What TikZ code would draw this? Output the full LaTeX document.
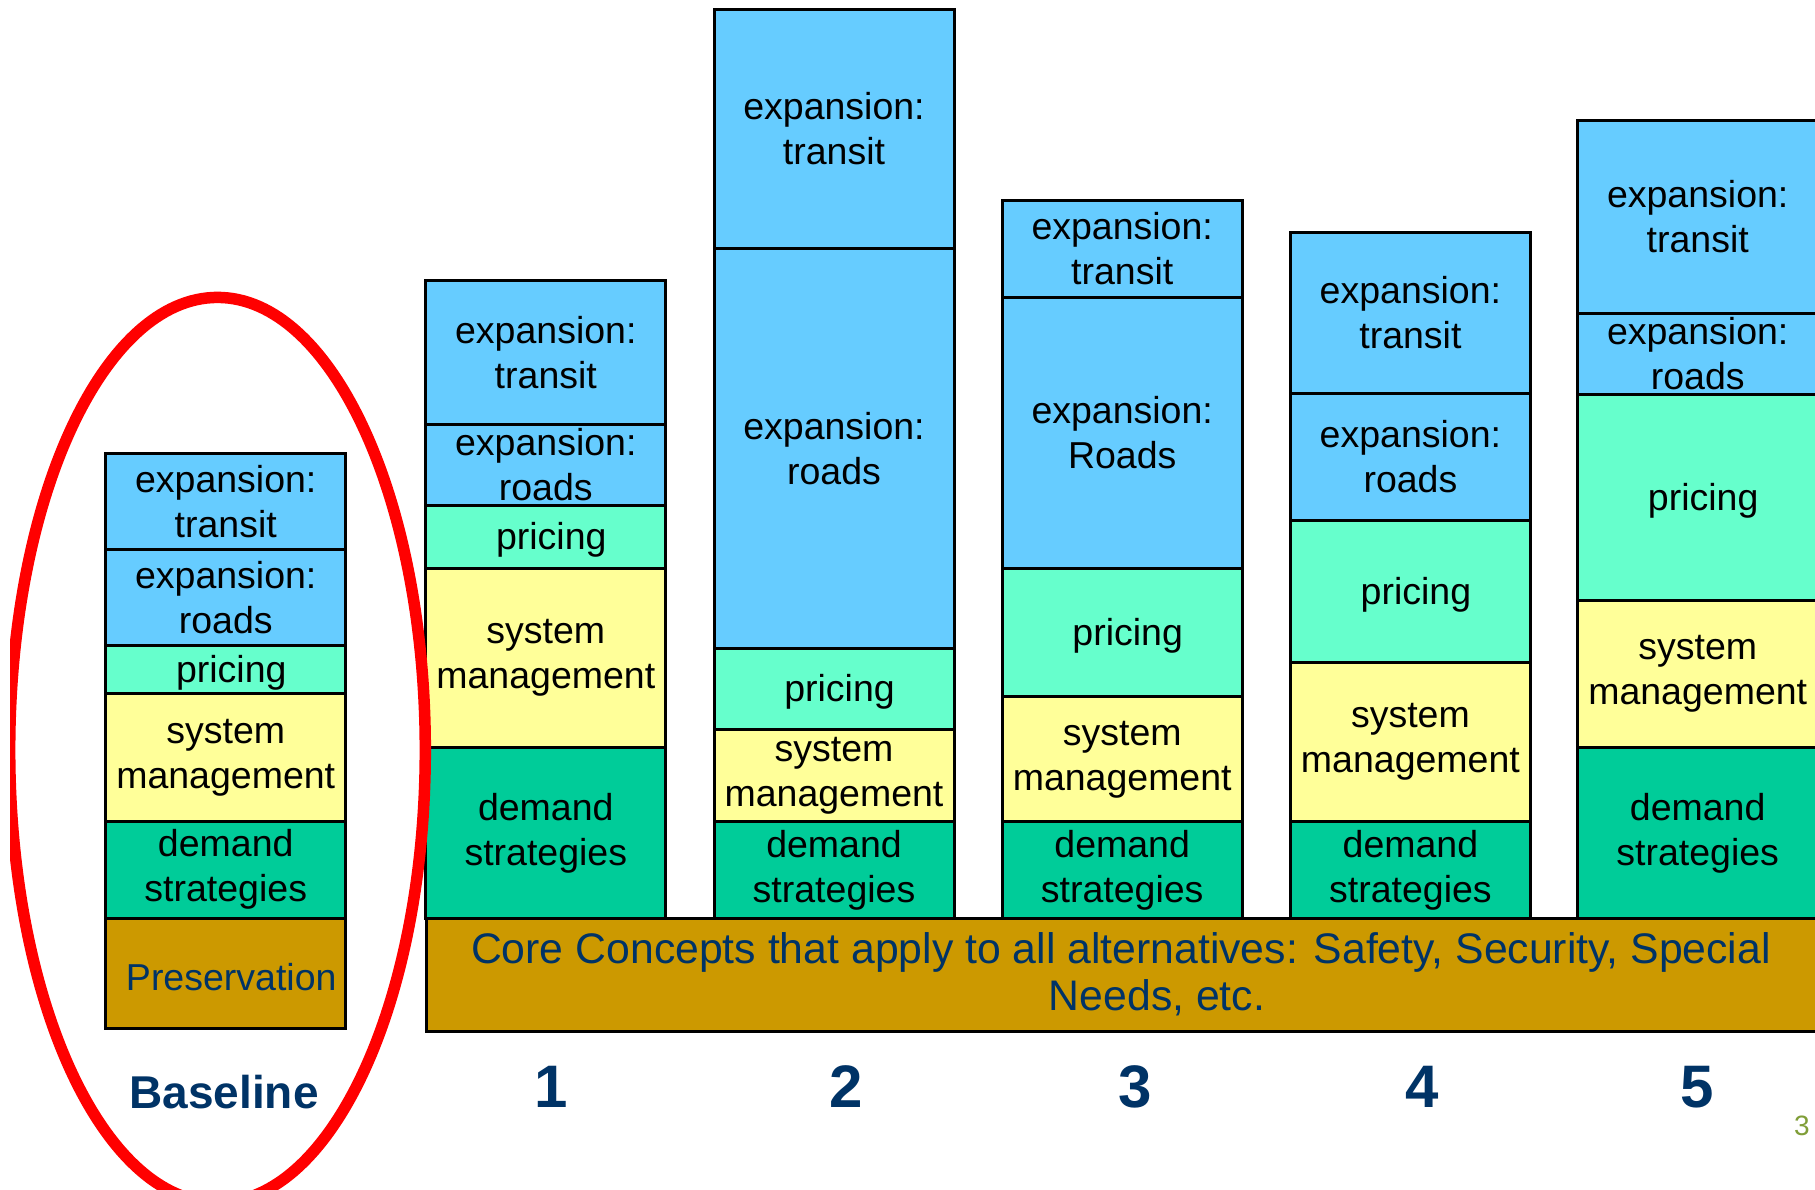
\documentclass[tikz,border=0pt]{standalone}
\usepackage{fontspec}
\setmainfont{Liberation Sans}
\definecolor{azul}{HTML}{66CCFF}
\definecolor{aguamarina}{HTML}{66FFCC}
\definecolor{amarillo}{HTML}{FFFF99}
\definecolor{verde}{HTML}{00CC99}
\definecolor{ocre}{HTML}{CC9900}
\definecolor{marino}{HTML}{003366}
\definecolor{oliva}{RGB}{128,158,56}
\newcommand{\puntal}{\rule{0pt}{0.905em}}
\newcommand{\sangria}{\hspace*{11pt}}
\tikzset{
    capa/.style={
        draw=black,
        line width=3pt,
        minimum width=240pt,
        inner sep=0pt,
        align=center,
        execute at begin node=\puntal,
        font=\fontsize{37.5}{45}\selectfont
    },
    numero/.style={
        anchor=base,
        text=marino,
        font=\fontsize{60}{72}\selectfont\bfseries
    }
}

\begin{document}
\begin{tikzpicture}[
    x=1pt,
    y=-1pt
]

    \path[use as bounding box, fill=white] (0,0) rectangle (1815,1189);
    \clip (0,0) rectangle (1815,1189);

    % Baseline
    \node[capa, fill=azul,       minimum height=96pt]    (b-tr) at (225.75,501.7)  {expansion:\\transit};
    \node[capa, fill=azul,       minimum height=96.1pt]  (b-ro) at (225.75,597.75) {expansion:\\roads};
    \node[capa, fill=aguamarina, minimum height=47.3pt]  (b-pr) at (225.75,669.45) {\sangria pricing};
    \node[capa, fill=amarillo,   minimum height=128.4pt] (b-sm) at (225.75,757.3)  {system\\management};
    \node[capa, fill=verde,      minimum height=96.5pt]  (b-ds) at (225.75,869.75) {demand\\strategies};
    \node[capa, fill=ocre, text=marino, minimum height=110.7pt] (b-pv) at (225.75,973.35) {\sangria Preservation};

    % Alternativa 1
    \node[capa, fill=azul,       minimum height=144pt]   (a1-tr) at (545.8,352.5)  {expansion:\\transit};
    \node[capa, fill=azul,       minimum height=80.5pt]  (a1-ro) at (545.8,464.75) {expansion:\\roads};
    \node[capa, fill=aguamarina, minimum height=63.7pt]  (a1-pr) at (545.8,536.85) {\sangria pricing};
    \node[capa, fill=amarillo,   minimum height=179pt]   (a1-sm) at (545.8,658.2)  {system\\management};
    \node[capa, fill=verde,      minimum height=170.3pt] (a1-ds) at (545.8,832.85) {demand\\strategies};

    % Alternativa 2
    \node[capa, fill=azul,       minimum height=239pt]   (a2-tr) at (834,128.5) {expansion:\\transit};
    \node[capa, fill=azul,       minimum height=400.2pt] (a2-ro) at (834,448.1) {expansion:\\roads};
    \node[capa, fill=aguamarina, minimum height=81pt]    (a2-pr) at (834,688.7) {\sangria pricing};
    \node[capa, fill=amarillo,   minimum height=92.6pt]  (a2-sm) at (834,775.5) {system\\management};
    \node[capa, fill=verde,      minimum height=96.2pt]  (a2-ds) at (834,869.9) {demand\\strategies};

    % Alternativa 3
    \node[capa, fill=azul,       minimum height=97.1pt]  (a3-tr) at (1122.2,249.05) {expansion:\\transit};
    \node[capa, fill=azul,       minimum height=270.7pt] (a3-ro) at (1122.2,432.95) {expansion:\\Roads};
    \node[capa, fill=aguamarina, minimum height=128.5pt] (a3-pr) at (1122.2,632.55) {\sangria pricing};
    \node[capa, fill=amarillo,   minimum height=125pt]   (a3-sm) at (1122.2,759.3)  {system\\management};
    \node[capa, fill=verde,      minimum height=96.2pt]  (a3-ds) at (1122.2,869.9)  {demand\\strategies};

    % Alternativa 4
    \node[capa, fill=azul,       minimum height=160.6pt] (a4-tr) at (1410.4,313)    {expansion:\\transit};
    \node[capa, fill=azul,       minimum height=127.5pt] (a4-ro) at (1410.4,457.05) {expansion:\\roads};
    \node[capa, fill=aguamarina, minimum height=141.3pt] (a4-pr) at (1410.4,591.45) {\sangria pricing};
    \node[capa, fill=amarillo,   minimum height=159.7pt] (a4-sm) at (1410.4,741.95) {system\\management};
    \node[capa, fill=verde,      minimum height=96.2pt]  (a4-ds) at (1410.4,869.9)  {demand\\strategies};

    % Alternativa 5
    \node[capa, fill=azul,       minimum height=192.4pt] (a5-tr) at (1697.7,216.8)  {expansion:\\transit};
    \node[capa, fill=azul,       minimum height=81pt]    (a5-ro) at (1697.7,353.5)  {expansion:\\roads};
    \node[capa, fill=aguamarina, minimum height=206.7pt] (a5-pr) at (1697.7,497.35) {\sangria pricing};
    \node[capa, fill=amarillo,   minimum height=147pt]   (a5-sm) at (1697.7,674.2)  {system\\management};
    \node[capa, fill=verde,      minimum height=170.3pt] (a5-ds) at (1697.7,832.85) {demand\\strategies};

    % Conceptos comunes
    \node[capa, fill=ocre, text=marino, minimum width=1462pt, minimum height=113pt,
          font=\fontsize{42.75}{47}\selectfont] (nucleo) at (1157,974.5)
        {Core Concepts that apply to all alternatives: Safety, Security, Special\hspace*{72pt}\\Needs, etc.};

    % Etiquetas
    \node[numero, font=\fontsize{46}{55}\selectfont\bfseries] (base) at (224,1108) {Baseline};
    \node[numero] (n1) at (551.6,1107)  {1};
    \node[numero] (n2) at (845.8,1107)  {2};
    \node[numero] (n3) at (1135.6,1107) {3};
    \node[numero] (n4) at (1421.7,1107) {4};
    \node[numero] (n5) at (1697,1107)   {5};
    \node[anchor=base, text=oliva, font=\fontsize{28}{34}\selectfont] (pag) at (1802,1135) {3};

    % Elipse roja
    \begin{scope}
        \clip (10,0) rectangle (1815,1189);
        \draw[red, line width=11.5pt] (217.5,750) ellipse [x radius=207.8pt, y radius=452.6pt];
    \end{scope}

\end{tikzpicture}
\end{document}
